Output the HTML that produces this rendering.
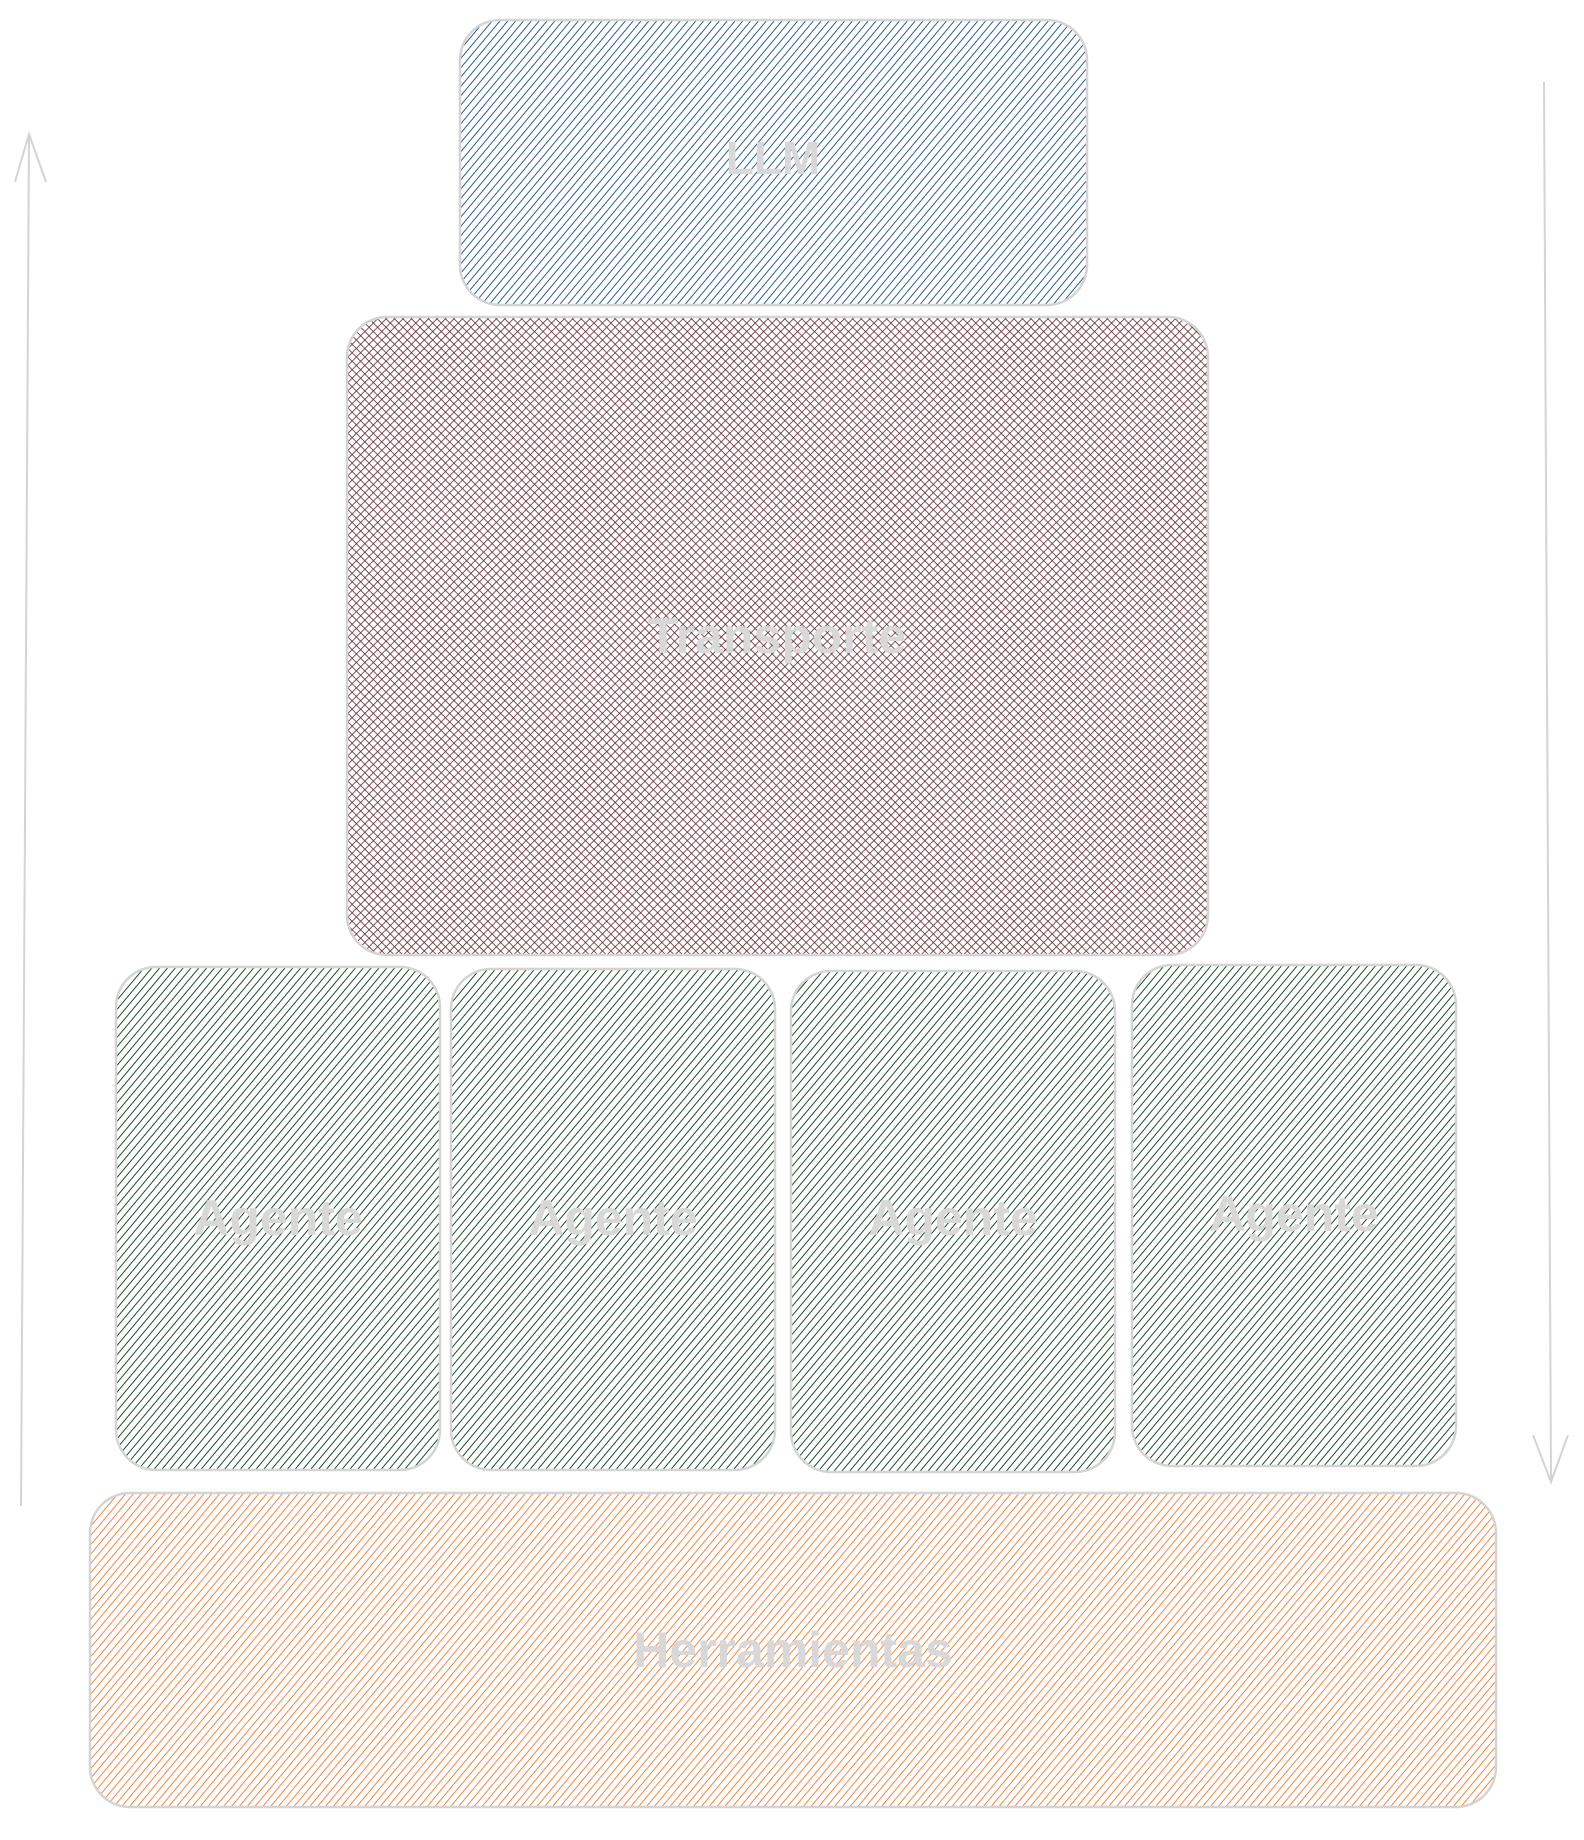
<!DOCTYPE html>
<html><head><meta charset="utf-8"><style>
html,body{margin:0;padding:0;background:#fff;width:1584px;height:1840px;overflow:hidden}
svg{display:block}
text{font-family:"Liberation Sans",sans-serif;font-weight:bold;fill:#d8d8d8;text-anchor:middle;dominant-baseline:middle}
</style></head><body>
<svg width="1584" height="1840" viewBox="0 0 1584 1840" xmlns="http://www.w3.org/2000/svg">
<defs>
<pattern id="pb" width="6" height="6" patternUnits="userSpaceOnUse" patternTransform="rotate(40)">
<rect width="6" height="6" fill="#fff"/><line x1="0" y1="0" x2="0" y2="6" stroke="#2f5f8c" stroke-width="2"/></pattern>
<pattern id="pr" width="6" height="6" patternUnits="userSpaceOnUse" patternTransform="rotate(45)">
<rect width="6" height="6" fill="#fff"/><line x1="0" y1="0" x2="0" y2="6" stroke="#5e2a2e" stroke-width="1.6"/><line x1="0" y1="0" x2="6" y2="0" stroke="#5e2a2e" stroke-width="1.6"/></pattern>
<pattern id="pg" width="6" height="6" patternUnits="userSpaceOnUse" patternTransform="rotate(40)">
<rect width="6" height="6" fill="#fff"/><line x1="0" y1="0" x2="0" y2="6" stroke="#1f4d2c" stroke-width="2"/></pattern>
<pattern id="po" width="6" height="6" patternUnits="userSpaceOnUse" patternTransform="rotate(40)">
<rect width="6" height="6" fill="#fff"/><line x1="0" y1="0" x2="0" y2="6" stroke="#f07a30" stroke-width="1.8"/></pattern>
</defs>
<g stroke="#d4d4d4" stroke-width="2.5">
<rect x="460" y="20" width="627" height="285" rx="40" fill="url(#pb)"/>
<rect x="347" y="317" width="861" height="638" rx="40" fill="url(#pr)"/>
<rect x="116" y="967" width="324" height="503" rx="40" fill="url(#pg)"/>
<rect x="451" y="969" width="324" height="501" rx="40" fill="url(#pg)"/>
<rect x="791" y="971" width="324" height="501" rx="40" fill="url(#pg)"/>
<rect x="1132" y="965" width="324" height="501" rx="40" fill="url(#pg)"/>
<rect x="90" y="1493" width="1406" height="314" rx="40" fill="url(#po)"/>
</g>
<g stroke="#d4d4d4" stroke-width="2" fill="none">
<path d="M21 1506 L29 134"/><path d="M15 182 L29 134 L46 182"/>
<path d="M1544 82 L1551 1482"/><path d="M1533 1435 L1551 1482 L1568 1435"/>
</g>
<text x="773" y="162" font-size="46">LLM</text>
<text x="777" y="640" font-size="50">Transporte</text>
<text x="278" y="1222" font-size="50">Agente</text>
<text x="613" y="1222" font-size="50">Agente</text>
<text x="953" y="1222" font-size="50">Agente</text>
<text x="1294" y="1218" font-size="50">Agente</text>
<text x="793" y="1654" font-size="50">Herramientas</text>
</svg>
</body></html>
